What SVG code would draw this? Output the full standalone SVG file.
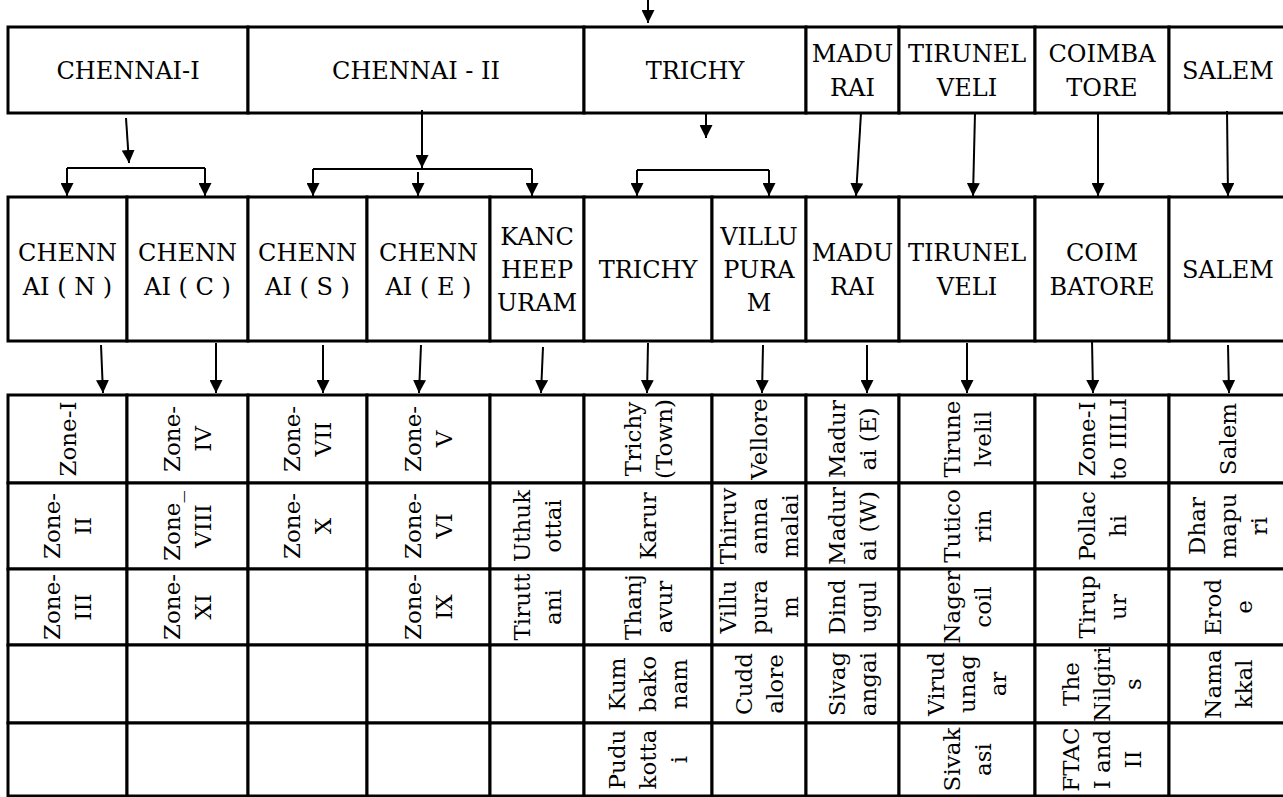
<svg xmlns="http://www.w3.org/2000/svg" width="1283" height="797" viewBox="0 0 1283 797">
<style>
.c{fill:#fff;stroke:#000;stroke-width:3}
.t{font-family:"DejaVu Serif","Liberation Serif",serif;font-size:24px;fill:#000;text-anchor:middle}
.v{font-family:"DejaVu Serif","Liberation Serif",serif;font-size:23px;fill:#000;text-anchor:middle}
.k line{stroke:#000;stroke-width:2;fill:none}
.k line.a{marker-end:url(#ah)}
</style>
<defs>
<marker id="ah" markerUnits="userSpaceOnUse" markerWidth="13" markerHeight="13" viewBox="0 0 13 13" refX="13" refY="6.5" orient="auto"><path d="M0,0 L13,6.5 L0,13 z" fill="#000"/></marker>
</defs>
<rect width="1283" height="797" fill="#fff"/>

<!-- top row -->
<g id="top-chennai-1"><rect class="c" x="8" y="27" width="240" height="86"/><text class="t" x="128" y="79">CHENNAI-I</text></g>
<g id="top-chennai-2"><rect class="c" x="248" y="27" width="336" height="86"/><text class="t" x="416" y="79">CHENNAI - II</text></g>
<g id="top-trichy"><rect class="c" x="584" y="27" width="222" height="86"/><text class="t" x="695" y="79">TRICHY</text></g>
<g id="top-madurai"><rect class="c" x="806" y="27" width="93" height="86"/><text class="t" x="852.5" y="62">MADU<tspan x="852.5" y="96">RAI</tspan></text></g>
<g id="top-tirunelveli"><rect class="c" x="899" y="27" width="136" height="86"/><text class="t" x="967" y="62">TIRUNEL<tspan x="967" y="96">VELI</tspan></text></g>
<g id="top-coimbatore"><rect class="c" x="1035" y="27" width="134" height="86"/><text class="t" x="1102" y="62">COIMBA<tspan x="1102" y="96">TORE</tspan></text></g>
<g id="top-salem"><rect class="c" x="1169" y="27" width="121" height="86"/><text class="t" x="1228" y="79">SALEM</text></g>

<!-- middle row -->
<g id="mid-chennai-n"><rect class="c" x="8" y="197" width="119" height="144"/><text class="t" x="67.5" y="261">CHENN<tspan x="67.5" y="295">AI ( N )</tspan></text></g>
<g id="mid-chennai-c"><rect class="c" x="127" y="197" width="121" height="144"/><text class="t" x="187.5" y="261">CHENN<tspan x="187.5" y="295">AI ( C )</tspan></text></g>
<g id="mid-chennai-s"><rect class="c" x="248" y="197" width="119" height="144"/><text class="t" x="307.5" y="261">CHENN<tspan x="307.5" y="295">AI ( S )</tspan></text></g>
<g id="mid-chennai-e"><rect class="c" x="367" y="197" width="123" height="144"/><text class="t" x="428.5" y="261">CHENN<tspan x="428.5" y="295">AI ( E )</tspan></text></g>
<g id="mid-kancheepuram"><rect class="c" x="490" y="197" width="94" height="144"/><text class="t" x="537" y="245">KANC<tspan x="537" y="278">HEEP</tspan><tspan x="537" y="311">URAM</tspan></text></g>
<g id="mid-trichy"><rect class="c" x="584" y="197" width="128" height="144"/><text class="t" x="648" y="278">TRICHY</text></g>
<g id="mid-villupuram"><rect class="c" x="712" y="197" width="94" height="144"/><text class="t" x="759" y="245">VILLU<tspan x="759" y="278">PURA</tspan><tspan x="759" y="311">M</tspan></text></g>
<g id="mid-madurai"><rect class="c" x="806" y="197" width="93" height="144"/><text class="t" x="852.5" y="261">MADU<tspan x="852.5" y="295">RAI</tspan></text></g>
<g id="mid-tirunelveli"><rect class="c" x="899" y="197" width="136" height="144"/><text class="t" x="967" y="261">TIRUNEL<tspan x="967" y="295">VELI</tspan></text></g>
<g id="mid-coimbatore"><rect class="c" x="1035" y="197" width="134" height="144"/><text class="t" x="1102" y="261">COIM<tspan x="1102" y="295">BATORE</tspan></text></g>
<g id="mid-salem"><rect class="c" x="1169" y="197" width="121" height="144"/><text class="t" x="1228" y="278">SALEM</text></g>

<!-- bottom table: column 1 -->
<g id="b1-1"><rect class="c" x="8" y="395" width="119" height="88"/><text class="v" transform="translate(67.5,439) rotate(-90)"><tspan x="0" y="8">Zone-I</tspan></text></g>
<g id="b1-2"><rect class="c" x="8" y="483" width="119" height="86"/><text class="v" transform="translate(67.5,526) rotate(-90)"><tspan x="0" y="-7.5">Zone-</tspan><tspan x="0" y="23.5">II</tspan></text></g>
<g id="b1-3"><rect class="c" x="8" y="569" width="119" height="76"/><text class="v" transform="translate(67.5,607) rotate(-90)"><tspan x="0" y="-7.5">Zone-</tspan><tspan x="0" y="23.5">III</tspan></text></g>
<g id="b1-4"><rect class="c" x="8" y="645" width="119" height="78"/></g>
<g id="b1-5"><rect class="c" x="8" y="723" width="119" height="73"/></g>

<!-- column 2 -->
<g id="b2-1"><rect class="c" x="127" y="395" width="121" height="88"/><text class="v" transform="translate(187.5,439) rotate(-90)"><tspan x="0" y="-7.5">Zone-</tspan><tspan x="0" y="23.5">IV</tspan></text></g>
<g id="b2-2"><rect class="c" x="127" y="483" width="121" height="86"/><text class="v" transform="translate(187.5,526) rotate(-90)"><tspan x="0" y="-7.5">Zone_</tspan><tspan x="0" y="23.5">VIII</tspan></text></g>
<g id="b2-3"><rect class="c" x="127" y="569" width="121" height="76"/><text class="v" transform="translate(187.5,607) rotate(-90)"><tspan x="0" y="-7.5">Zone-</tspan><tspan x="0" y="23.5">XI</tspan></text></g>
<g id="b2-4"><rect class="c" x="127" y="645" width="121" height="78"/></g>
<g id="b2-5"><rect class="c" x="127" y="723" width="121" height="73"/></g>

<!-- column 3 -->
<g id="b3-1"><rect class="c" x="248" y="395" width="119" height="88"/><text class="v" transform="translate(307.5,439) rotate(-90)"><tspan x="0" y="-7.5">Zone-</tspan><tspan x="0" y="23.5">VII</tspan></text></g>
<g id="b3-2"><rect class="c" x="248" y="483" width="119" height="86"/><text class="v" transform="translate(307.5,526) rotate(-90)"><tspan x="0" y="-7.5">Zone-</tspan><tspan x="0" y="23.5">X</tspan></text></g>
<g id="b3-3"><rect class="c" x="248" y="569" width="119" height="76"/></g>
<g id="b3-4"><rect class="c" x="248" y="645" width="119" height="78"/></g>
<g id="b3-5"><rect class="c" x="248" y="723" width="119" height="73"/></g>

<!-- column 4 -->
<g id="b4-1"><rect class="c" x="367" y="395" width="123" height="88"/><text class="v" transform="translate(428.5,439) rotate(-90)"><tspan x="0" y="-7.5">Zone-</tspan><tspan x="0" y="23.5">V</tspan></text></g>
<g id="b4-2"><rect class="c" x="367" y="483" width="123" height="86"/><text class="v" transform="translate(428.5,526) rotate(-90)"><tspan x="0" y="-7.5">Zone-</tspan><tspan x="0" y="23.5">VI</tspan></text></g>
<g id="b4-3"><rect class="c" x="367" y="569" width="123" height="76"/><text class="v" transform="translate(428.5,607) rotate(-90)"><tspan x="0" y="-7.5">Zone-</tspan><tspan x="0" y="23.5">IX</tspan></text></g>
<g id="b4-4"><rect class="c" x="367" y="645" width="123" height="78"/></g>
<g id="b4-5"><rect class="c" x="367" y="723" width="123" height="73"/></g>

<!-- column 5 -->
<g id="b5-1"><rect class="c" x="490" y="395" width="94" height="88"/></g>
<g id="b5-2"><rect class="c" x="490" y="483" width="94" height="86"/><text class="v" transform="translate(537,526) rotate(-90)"><tspan x="0" y="-7.5">Uthuk</tspan><tspan x="0" y="23.5">ottai</tspan></text></g>
<g id="b5-3"><rect class="c" x="490" y="569" width="94" height="76"/><text class="v" transform="translate(537,607) rotate(-90)"><tspan x="0" y="-7.5">Tirutt</tspan><tspan x="0" y="23.5">ani</tspan></text></g>
<g id="b5-4"><rect class="c" x="490" y="645" width="94" height="78"/></g>
<g id="b5-5"><rect class="c" x="490" y="723" width="94" height="73"/></g>

<!-- column 6 -->
<g id="b6-1"><rect class="c" x="584" y="395" width="128" height="88"/><text class="v" transform="translate(648,439) rotate(-90)"><tspan x="0" y="-7.5">Trichy</tspan><tspan x="0" y="23.5">(Town)</tspan></text></g>
<g id="b6-2"><rect class="c" x="584" y="483" width="128" height="86"/><text class="v" transform="translate(648,526) rotate(-90)"><tspan x="0" y="8">Karur</tspan></text></g>
<g id="b6-3"><rect class="c" x="584" y="569" width="128" height="76"/><text class="v" transform="translate(648,607) rotate(-90)"><tspan x="0" y="-7.5">Thanj</tspan><tspan x="0" y="23.5">avur</tspan></text></g>
<g id="b6-4"><rect class="c" x="584" y="645" width="128" height="78"/><text class="v" transform="translate(648,684) rotate(-90)"><tspan x="0" y="-23">Kum</tspan><tspan x="0" y="8">bako</tspan><tspan x="0" y="39">nam</tspan></text></g>
<g id="b6-5"><rect class="c" x="584" y="723" width="128" height="73"/><text class="v" transform="translate(648,759.5) rotate(-90)"><tspan x="0" y="-23">Pudu</tspan><tspan x="0" y="8">kotta</tspan><tspan x="0" y="39">i</tspan></text></g>

<!-- column 7 -->
<g id="b7-1"><rect class="c" x="712" y="395" width="94" height="88"/><text class="v" transform="translate(759,439) rotate(-90)"><tspan x="0" y="8">Vellore</tspan></text></g>
<g id="b7-2"><rect class="c" x="712" y="483" width="94" height="86"/><text class="v" transform="translate(759,526) rotate(-90)"><tspan x="0" y="-23">Thiruv</tspan><tspan x="0" y="8">anna</tspan><tspan x="0" y="39">malai</tspan></text></g>
<g id="b7-3"><rect class="c" x="712" y="569" width="94" height="76"/><text class="v" transform="translate(759,607) rotate(-90)"><tspan x="0" y="-23">Villu</tspan><tspan x="0" y="8">pura</tspan><tspan x="0" y="39">m</tspan></text></g>
<g id="b7-4"><rect class="c" x="712" y="645" width="94" height="78"/><text class="v" transform="translate(759,684) rotate(-90)"><tspan x="0" y="-7.5">Cudd</tspan><tspan x="0" y="23.5">alore</tspan></text></g>
<g id="b7-5"><rect class="c" x="712" y="723" width="94" height="73"/></g>

<!-- column 8 -->
<g id="b8-1"><rect class="c" x="806" y="395" width="93" height="88"/><text class="v" transform="translate(852.5,439) rotate(-90)"><tspan x="0" y="-7.5">Madur</tspan><tspan x="0" y="23.5">ai (E)</tspan></text></g>
<g id="b8-2"><rect class="c" x="806" y="483" width="93" height="86"/><text class="v" transform="translate(852.5,526) rotate(-90)"><tspan x="0" y="-7.5">Madur</tspan><tspan x="0" y="23.5">ai (W)</tspan></text></g>
<g id="b8-3"><rect class="c" x="806" y="569" width="93" height="76"/><text class="v" transform="translate(852.5,607) rotate(-90)"><tspan x="0" y="-7.5">Dind</tspan><tspan x="0" y="23.5">ugul</tspan></text></g>
<g id="b8-4"><rect class="c" x="806" y="645" width="93" height="78"/><text class="v" transform="translate(852.5,684) rotate(-90)"><tspan x="0" y="-7.5">Sivag</tspan><tspan x="0" y="23.5">angai</tspan></text></g>
<g id="b8-5"><rect class="c" x="806" y="723" width="93" height="73"/></g>

<!-- column 9 -->
<g id="b9-1"><rect class="c" x="899" y="395" width="136" height="88"/><text class="v" transform="translate(967,439) rotate(-90)"><tspan x="0" y="-7.5">Tirune</tspan><tspan x="0" y="23.5">lvelil</tspan></text></g>
<g id="b9-2"><rect class="c" x="899" y="483" width="136" height="86"/><text class="v" transform="translate(967,526) rotate(-90)"><tspan x="0" y="-7.5">Tutico</tspan><tspan x="0" y="23.5">rin</tspan></text></g>
<g id="b9-3"><rect class="c" x="899" y="569" width="136" height="76"/><text class="v" transform="translate(967,607) rotate(-90)"><tspan x="0" y="-7.5">Nager</tspan><tspan x="0" y="23.5">coil</tspan></text></g>
<g id="b9-4"><rect class="c" x="899" y="645" width="136" height="78"/><text class="v" transform="translate(967,684) rotate(-90)"><tspan x="0" y="-23">Virud</tspan><tspan x="0" y="8">unag</tspan><tspan x="0" y="39">ar</tspan></text></g>
<g id="b9-5"><rect class="c" x="899" y="723" width="136" height="73"/><text class="v" transform="translate(967,759.5) rotate(-90)"><tspan x="0" y="-7.5">Sivak</tspan><tspan x="0" y="23.5">asi</tspan></text></g>

<!-- column 10 -->
<g id="b10-1"><rect class="c" x="1035" y="395" width="134" height="88"/><text class="v" transform="translate(1102,439) rotate(-90)"><tspan x="0" y="-7.5">Zone-I</tspan><tspan x="0" y="23.5">to IIILI</tspan></text></g>
<g id="b10-2"><rect class="c" x="1035" y="483" width="134" height="86"/><text class="v" transform="translate(1102,526) rotate(-90)"><tspan x="0" y="-7.5">Pollac</tspan><tspan x="0" y="23.5">hi</tspan></text></g>
<g id="b10-3"><rect class="c" x="1035" y="569" width="134" height="76"/><text class="v" transform="translate(1102,607) rotate(-90)"><tspan x="0" y="-7.5">Tirup</tspan><tspan x="0" y="23.5">ur</tspan></text></g>
<g id="b10-4"><rect class="c" x="1035" y="645" width="134" height="78"/><text class="v" transform="translate(1102,684) rotate(-90)"><tspan x="0" y="-23">The</tspan><tspan x="0" y="8">Nilgiri</tspan><tspan x="0" y="39">s</tspan></text></g>
<g id="b10-5"><rect class="c" x="1035" y="723" width="134" height="73"/><text class="v" transform="translate(1102,759.5) rotate(-90)"><tspan x="0" y="-23">FTAC</tspan><tspan x="0" y="8">I and</tspan><tspan x="0" y="39">II</tspan></text></g>

<!-- column 11 -->
<g id="b11-1"><rect class="c" x="1169" y="395" width="121" height="88"/><text class="v" transform="translate(1228,439) rotate(-90)"><tspan x="0" y="8">Salem</tspan></text></g>
<g id="b11-2"><rect class="c" x="1169" y="483" width="121" height="86"/><text class="v" transform="translate(1228,526) rotate(-90)"><tspan x="0" y="-23">Dhar</tspan><tspan x="0" y="8">mapu</tspan><tspan x="0" y="39">ri</tspan></text></g>
<g id="b11-3"><rect class="c" x="1169" y="569" width="121" height="76"/><text class="v" transform="translate(1228,607) rotate(-90)"><tspan x="0" y="-7.5">Erod</tspan><tspan x="0" y="23.5">e</tspan></text></g>
<g id="b11-4"><rect class="c" x="1169" y="645" width="121" height="78"/><text class="v" transform="translate(1228,684) rotate(-90)"><tspan x="0" y="-7.5">Nama</tspan><tspan x="0" y="23.5">kkal</tspan></text></g>
<g id="b11-5"><rect class="c" x="1169" y="723" width="121" height="73"/></g>

<!-- connectors -->
<g id="connectors" class="k">
<line class="a" x1="648" y1="0" x2="648" y2="23"/>
<line class="a" x1="126" y1="118" x2="129" y2="163"/>
<line x1="67" y1="168" x2="205" y2="168"/>
<line class="a" x1="67" y1="168" x2="67" y2="196"/>
<line class="a" x1="205" y1="168" x2="205" y2="196"/>
<line class="a" x1="422" y1="110" x2="422" y2="168"/>
<line x1="313" y1="169" x2="532" y2="169"/>
<line class="a" x1="313" y1="169" x2="313" y2="196"/>
<line class="a" x1="418" y1="172" x2="418" y2="196"/>
<line class="a" x1="532" y1="169" x2="532" y2="196"/>
<line class="a" x1="706" y1="113" x2="706" y2="138"/>
<line x1="637" y1="170" x2="769" y2="170"/>
<line class="a" x1="637" y1="170" x2="637" y2="196"/>
<line class="a" x1="769" y1="170" x2="769" y2="196"/>
<line class="a" x1="861" y1="113" x2="856" y2="196"/>
<line class="a" x1="975" y1="113" x2="973" y2="196"/>
<line class="a" x1="1098" y1="113" x2="1098" y2="196"/>
<line class="a" x1="1227" y1="111" x2="1228" y2="196"/>
<line class="a" x1="101" y1="345" x2="103" y2="393"/>
<line class="a" x1="216" y1="343" x2="216" y2="393"/>
<line class="a" x1="323" y1="345" x2="323" y2="393"/>
<line class="a" x1="421" y1="345" x2="419" y2="393"/>
<line class="a" x1="543" y1="347" x2="541" y2="393"/>
<line class="a" x1="648" y1="343" x2="647" y2="393"/>
<line class="a" x1="763" y1="345" x2="762" y2="393"/>
<line class="a" x1="867" y1="345" x2="867" y2="393"/>
<line class="a" x1="967" y1="343" x2="967" y2="393"/>
<line class="a" x1="1092" y1="340" x2="1093" y2="393"/>
<line class="a" x1="1228" y1="345" x2="1229" y2="393"/>
</g>
</svg>
